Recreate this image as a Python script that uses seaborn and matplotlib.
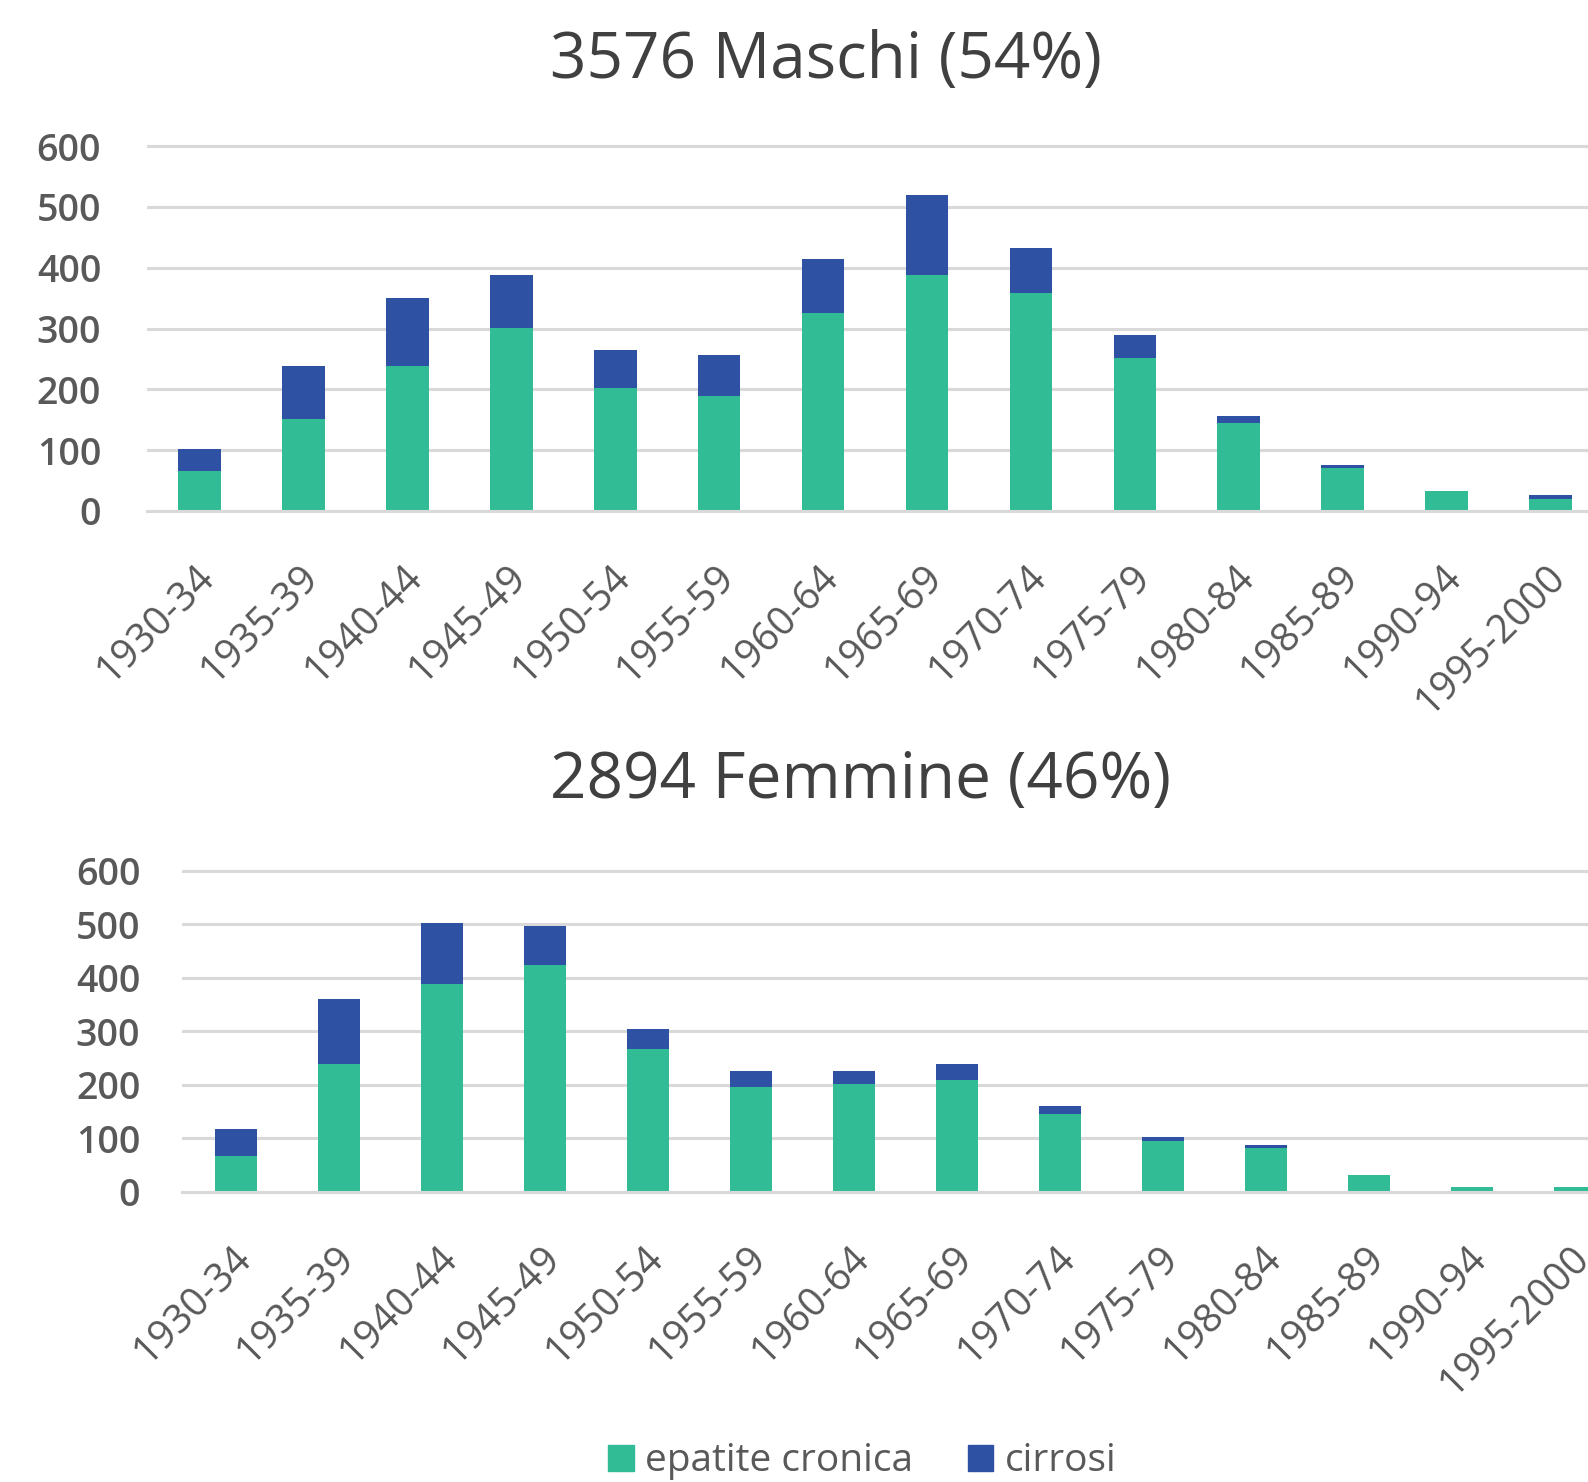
import numpy as np
import pandas as pd
import seaborn as sns
import matplotlib.pyplot as plt
import matplotlib.transforms as mtransforms
from matplotlib.patches import Patch

periods = ['1930-34', '1935-39', '1940-44', '1945-49', '1950-54', '1955-59', '1960-64',
           '1965-69', '1970-74', '1975-79', '1980-84', '1985-89', '1990-94', '1995-2000']
m_epatite = [65, 151, 238, 301, 202, 189, 326, 388, 358, 251, 145, 71, 33, 19]
m_cirrosi = [37, 87, 113, 87, 62, 68, 88, 132, 74, 38, 12, 5, 0, 8]
f_epatite = [68, 239, 389, 425, 267, 196, 202, 210, 146, 96, 82, 32, 10, 10]
f_cirrosi = [50, 121, 114, 72, 37, 30, 24, 29, 15, 7, 6, 0, 0, 0]

verde = '#32BC96'
blu = '#2E51A4'
grigio = '#595959'

sns.set_style('white')
plt.rcParams['font.family'] = ['Open Sans', 'DejaVu Sans']

fig = plt.figure(figsize=(15.88, 14.82), dpi=100)
# posizioni in frazione della figura
ax1 = fig.add_axes([0.0926, 0.6552, 0.9074, 0.2503])
ax2 = fig.add_axes([0.1146, 0.1957, 0.8854, 0.2202])


def disegna(ax, epatite, cirrosi, xlim, pad_y):
    df = pd.DataFrame({'periodo': periods, 'epatite': epatite,
                       'totale': np.array(epatite) + np.array(cirrosi)})
    # barre impilate: prima il totale (blu), poi l'epatite (verde) sopra
    sns.barplot(data=df, x='periodo', y='totale', color=blu, saturation=1,
                width=0.41, linewidth=0, ax=ax)
    sns.barplot(data=df, x='periodo', y='epatite', color=verde, saturation=1,
                width=0.41, linewidth=0, ax=ax)
    ax.set_ylim(0, 610)
    ax.set_xlim(*xlim)
    ax.set_yticks([0, 100, 200, 300, 400, 500, 600])
    ax.yaxis.grid(True, color='#D9D9D9', linewidth=2.2)
    ax.set_axisbelow(True)
    for s in ['top', 'right', 'left']:
        ax.spines[s].set_visible(False)
    ax.spines['bottom'].set_color('#D9D9D9')
    ax.spines['bottom'].set_linewidth(2.2)
    ax.set_xlabel('')
    ax.set_ylabel('')
    ax.tick_params(axis='y', length=0, pad=pad_y, labelsize=27, labelcolor=grigio)
    ax.tick_params(axis='x', length=0, pad=33, labelsize=28.5, labelcolor=grigio)
    for lab in ax.get_yticklabels():
        lab.set_fontweight('semibold')
    sposta = mtransforms.ScaledTranslation(-0.05, 0, fig.dpi_scale_trans)
    for lab in ax.get_xticklabels():
        lab.set_rotation(45)
        lab.set_ha('right')
        lab.set_rotation_mode('anchor')
        lab.set_fontweight('medium')
        lab.set_transform(lab.get_transform() + sposta)


disegna(ax1, m_epatite, m_cirrosi, (-0.505, 13.36), 33)
disegna(ax2, f_epatite, f_cirrosi, (-0.524, 13.13), 30)

fig.text(0.52, 0.959, '3576 Maschi (54%)', ha='center', va='center',
         fontsize=46, color='#404040', fontweight='medium')
fig.text(0.542, 0.473, '2894 Femmine (46%)', ha='center', va='center',
         fontsize=46, color='#404040', fontweight='medium')

handles = [Patch(color=verde, label='epatite cronica'), Patch(color=blu, label='cirrosi')]
leg = fig.legend(handles=handles, loc='center', bbox_to_anchor=(0.543, 0.014), ncol=2,
                 frameon=False, fontsize=28, handlelength=0.65, handleheight=0.65,
                 handletextpad=0.3, columnspacing=1.4, labelcolor=grigio)
for t in leg.get_texts():
    t.set_fontweight('medium')

fig.savefig('out.png', dpi=100)
